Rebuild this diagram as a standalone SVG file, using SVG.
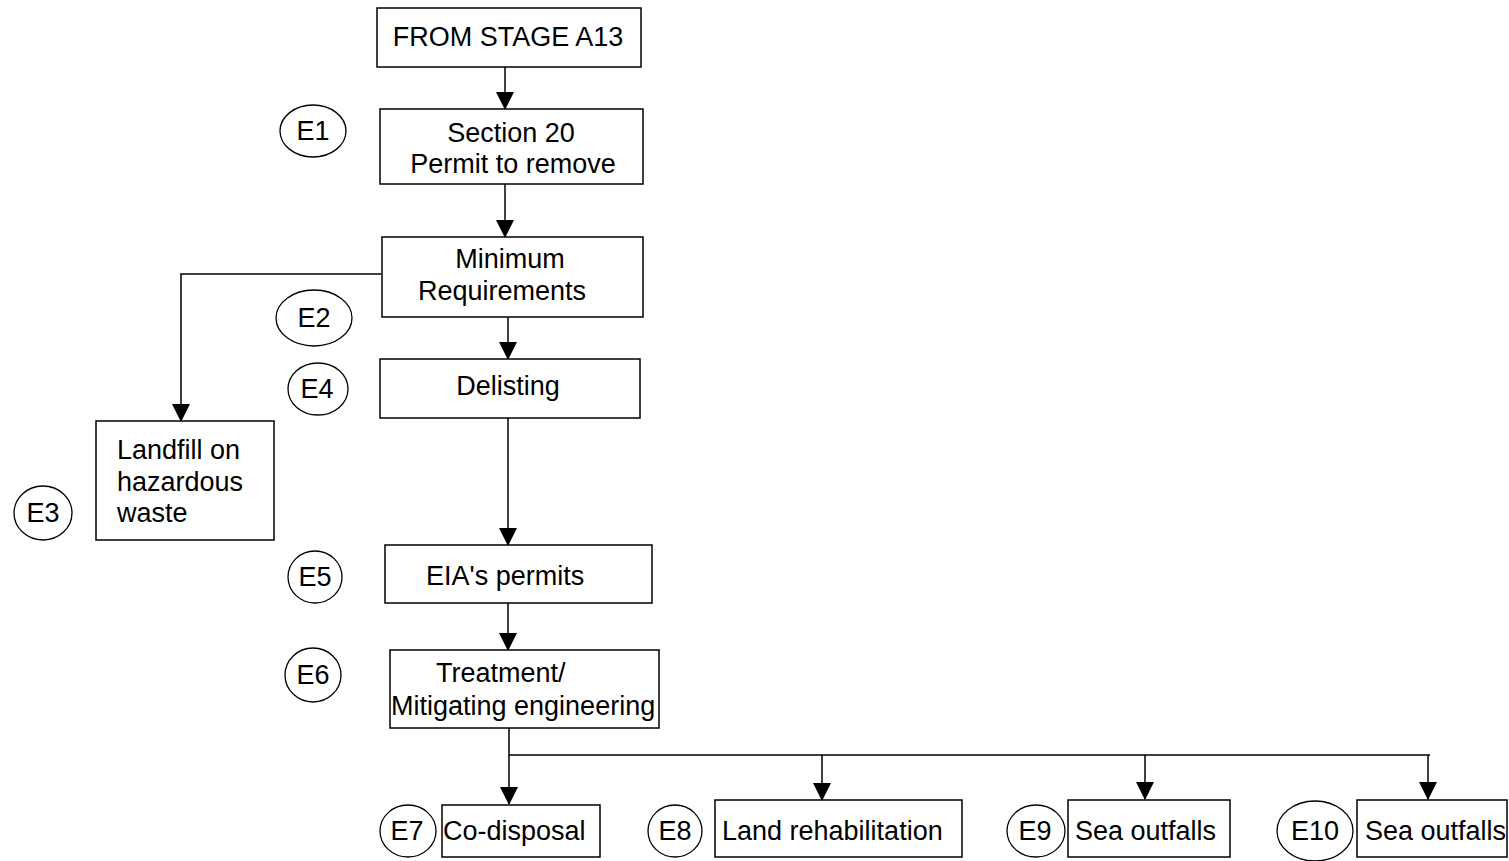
<svg xmlns="http://www.w3.org/2000/svg" width="1509" height="861" viewBox="0 0 1509 861">
<style>
.box{fill:#fff;stroke:#000;stroke-width:1.5}
.ell{fill:none;stroke:#000;stroke-width:1.3}
.t{font-family:"Liberation Sans",Arial,sans-serif;font-size:27px;fill:#000}
.c{text-anchor:middle}
.ln{fill:none;stroke:#000;stroke-width:1.5}
</style>
<defs>
<marker id="ah" markerUnits="userSpaceOnUse" markerWidth="18" markerHeight="18" viewBox="0 0 18 18" refX="17" refY="9" orient="auto">
<path d="M0,0 L18,9 L0,18 Z" fill="#000"/>
</marker>
</defs>
<g id="connectors">
<path class="ln" d="M505,67 V109" marker-end="url(#ah)"/>
<path class="ln" d="M505,184 V237" marker-end="url(#ah)"/>
<path class="ln" d="M381,274 H181 V421" marker-end="url(#ah)"/>
<path class="ln" d="M508,317 V359" marker-end="url(#ah)"/>
<path class="ln" d="M508,418 V545" marker-end="url(#ah)"/>
<path class="ln" d="M508,603 V650" marker-end="url(#ah)"/>
<path class="ln" d="M509,728 V755 H1430"/>
<path class="ln" d="M509,755 V804" marker-end="url(#ah)"/>
<path class="ln" d="M822,755 V800" marker-end="url(#ah)"/>
<path class="ln" d="M1145,755 V799" marker-end="url(#ah)"/>
<path class="ln" d="M1428,755 V799" marker-end="url(#ah)"/>
</g>
<g id="n_a13"><rect class="box" x="377" y="8" width="264" height="59"/><text class="t c" x="508" y="46">FROM STAGE A13</text></g>
<g id="n_e1"><ellipse class="ell" cx="313" cy="131" rx="33" ry="26"/><text class="t c" x="313" y="140">E1</text></g>
<g id="n_s20"><rect class="box" x="380" y="109" width="263" height="75"/><text class="t c" x="511" y="142">Section 20</text><text class="t c" x="513" y="173">Permit to remove</text></g>
<g id="n_min"><rect class="box" x="382" y="237" width="261" height="80"/><text class="t c" x="510" y="268">Minimum</text><text class="t c" x="502" y="300">Requirements</text></g>
<g id="n_e2"><ellipse class="ell" cx="314" cy="318" rx="38" ry="28"/><text class="t c" x="314" y="327">E2</text></g>
<g id="n_e4"><ellipse class="ell" cx="318" cy="389" rx="30" ry="26"/><text class="t c" x="317" y="398">E4</text></g>
<g id="n_del"><rect class="box" x="380" y="359" width="260" height="59"/><text class="t c" x="508" y="395">Delisting</text></g>
<g id="n_land"><rect class="box" x="96" y="421" width="178" height="119"/><text class="t" x="117" y="459">Landfill on</text><text class="t" x="117" y="491">hazardous</text><text class="t" x="117" y="522">waste</text></g>
<g id="n_e3"><ellipse class="ell" cx="43" cy="513" rx="29" ry="27"/><text class="t c" x="43" y="522">E3</text></g>
<g id="n_e5"><ellipse class="ell" cx="315" cy="577" rx="27" ry="26"/><text class="t c" x="315" y="586">E5</text></g>
<g id="n_eia"><rect class="box" x="385" y="545" width="267" height="58"/><text class="t" x="426" y="585">EIA's permits</text></g>
<g id="n_e6"><ellipse class="ell" cx="313" cy="675" rx="28" ry="27"/><text class="t c" x="313" y="684">E6</text></g>
<g id="n_treat"><rect class="box" x="390" y="650" width="269" height="78"/><text class="t" x="436" y="682">Treatment/</text><text class="t" x="391" y="715">Mitigating engineering</text></g>
<g id="n_e7"><ellipse class="ell" cx="408" cy="831" rx="28" ry="26"/><text class="t c" x="407" y="840">E7</text></g>
<g id="n_co"><rect class="box" x="442" y="805" width="158" height="52"/><text class="t" x="443" y="840">Co-disposal</text></g>
<g id="n_e8"><ellipse class="ell" cx="675" cy="831" rx="27" ry="26"/><text class="t c" x="675" y="840">E8</text></g>
<g id="n_landr"><rect class="box" x="715" y="800" width="247" height="57"/><text class="t" x="722" y="840">Land rehabilitation</text></g>
<g id="n_e9"><ellipse class="ell" cx="1036" cy="831" rx="29" ry="26"/><text class="t c" x="1035" y="840">E9</text></g>
<g id="n_sea1"><rect class="box" x="1068" y="800" width="162" height="57"/><text class="t" x="1075" y="840">Sea outfalls</text></g>
<g id="n_e10"><ellipse class="ell" cx="1315" cy="831" rx="38" ry="30"/><text class="t c" x="1315" y="840">E10</text></g>
<g id="n_sea2"><rect class="box" x="1357" y="800" width="150" height="57"/><text class="t" x="1365" y="840">Sea outfalls</text></g>
</svg>
